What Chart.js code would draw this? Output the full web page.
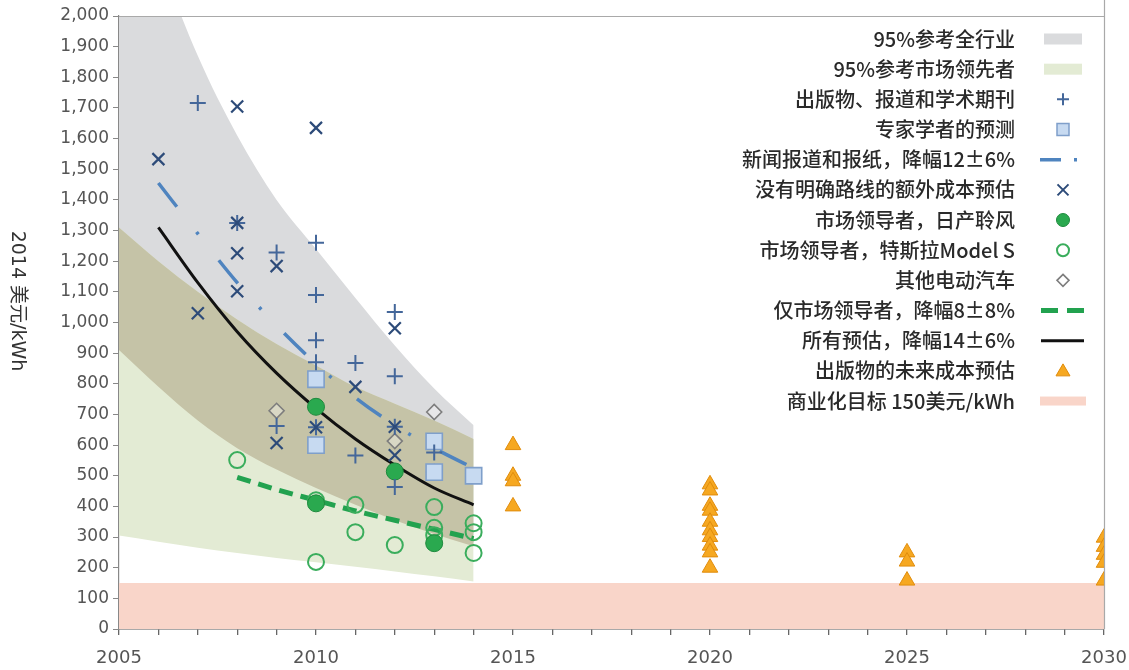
<!DOCTYPE html>
<html><head><meta charset="utf-8">
<script src="https://cdn.jsdelivr.net/npm/chart.js@4.4.1/dist/chart.umd.min.js"></script>
<style>html,body{margin:0;padding:0;background:#fff}#wrap{width:1129px;height:670px;position:relative}</style>
</head><body><div id="wrap"><canvas id="c" width="1129" height="670"></canvas></div>
<script>
// ---------- data ----------
const bandYears = [2005, 2006, 2007, 2008, 2009, 2010, 2011, 2012, 2013, 2014];
const allUpper = [2600, 2200, 1870, 1610, 1400, 1240, 1080, 925, 785, 665];
const allLower = [910, 790, 680, 590, 520, 460, 405, 355, 310, 270];
const leaderUpper = [1310, 1200, 1100, 1010, 930, 860, 790, 735, 680, 620];
const leaderLower = [305, 285, 265, 248, 232, 218, 203, 188, 172, 155];

const allFitYears = [2006, 2007, 2008, 2009, 2010, 2011, 2012, 2013, 2014];
const allFit = [1310, 1130, 970, 835, 720, 620, 535, 460, 405];
const newsFitYears = [2006, 2007, 2008, 2009, 2010, 2011, 2012, 2013, 2014];
const newsFit = [1455, 1290, 1130, 990, 865, 755, 665, 590, 525];
const leaderFitYears = [2008, 2009, 2010, 2011, 2012, 2013, 2014];
const leaderFit = [495, 455, 420, 385, 355, 325, 295];

const targetYears = [2005, 2030];
const targetValues = [150, 150];

const publications = [[2007,1716],[2008,1325],[2009,1228],[2009,662],[2010,1260],[2010,1090],[2010,942],[2010,870],[2010,658],
  [2011,868],[2011,566],[2012,1034],[2012,825],[2012,660],[2012,463],[2013,576]];
const experts = [[2010,815],[2010,600],[2013,612],[2013,512],[2014,500]];
const extraCosts = [[2006,1533],[2007,1030],[2008,1705],[2008,1325],[2008,1226],[2008,1102],[2009,1184],[2009,607],
  [2010,1635],[2010,658],[2011,790],[2012,981],[2012,660],[2012,567]];
const nissan = [[2010,725],[2010,410],[2012,514],[2013,280]];
const tesla = [[2008,551],[2010,420],[2010,219],[2011,405],[2011,316],[2012,274],[2013,398],[2013,330],[2013,306],
  [2014,345],[2014,316],[2014,248]];
const otherEV = [[2009,712],[2012,613],[2013,708],[2013,512]];
const futureEst = [[2015,600],[2015,500],[2015,482],[2015,400],
  [2020,472],[2020,452],[2020,402],[2020,386],[2020,350],[2020,322],[2020,300],[2020,272],[2020,250],[2020,200],
  [2025,250],[2025,220],[2025,158],
  [2030,298],[2030,268],[2030,242],[2030,216],[2030,158]];

const xLabelYears = [2005, 2010, 2015, 2020, 2025, 2030];
const yTicks = {min: 0, max: 2000, step: 100};
const yTitle = '2014 美元/kWh';
const legendLabels = ['95%参考全行业','95%参考市场领先者','出版物、报道和学术期刊','专家学者的预测','新闻报道和报纸，降幅12±6%',
  '没有明确路线的额外成本预估','市场领导者，日产聆风','市场领导者，特斯拉Model S','其他电动汽车','仅市场领导者，降幅8±8%',
  '所有预估，降幅14±6%','出版物的未来成本预估','商业化目标 150美元/kWh'];

// ---------- colours ----------
const C = {
  gray: '#dadbdd', green: '#e3ebd4', olive: '#c5c3a7', pink: '#f9d5c9',
  plus: '#44679a', cross: '#2d4b79', sqFill: '#c7daf1', sqBorder: '#7f9fca',
  nissan: '#2aa94f', nissanB: '#1e8a3d', tesla: '#3aad5c', diamond: '#7d7d7d',
  triFill: '#f6a821', triBorder: '#e08c0c', news: '#4f84bf', leader: '#22a24f', all: '#111111'
};

const pts = (xs, ys) => xs.map((x, i) => ({x: x, y: ys[i]}));
const pairs = a => a.map(p => ({x: p[0], y: p[1]}));
const hidden = 'rgba(0,0,0,0)';
function band(data, fill, color, order) {
  return {type: 'line', data: data, fill: fill, backgroundColor: color, borderColor: hidden, borderWidth: 0,
    pointRadius: 0, pointHoverRadius: 0, order: order, cubicInterpolationMode: 'monotone'};
}

const datasets = [
  band(pts(bandYears, allUpper), '+1', C.gray, 100),         // 0
  band(pts(bandYears, allLower), false, hidden, 100),        // 1
  band(pts(bandYears, leaderUpper), '+1', C.green, 99),      // 2
  band(pts(bandYears, leaderLower), false, hidden, 99),      // 3
  band(pts(bandYears, leaderUpper), '+1', C.olive, 98),      // 4
  band(pts(bandYears, allLower), false, hidden, 98),         // 5
  {type: 'line', data: pts(targetYears, targetValues), fill: 'origin', backgroundColor: C.pink, borderColor: hidden,
    borderWidth: 0, pointRadius: 0, order: 101},             // 6
  {type: 'line', data: pts(newsFitYears, newsFit), borderColor: C.news, borderWidth: 3.5, borderDash: [30, 32, 3, 33],
    pointRadius: 0, fill: false, order: 20, cubicInterpolationMode: 'monotone'},
  {type: 'line', data: pts(allFitYears, allFit), borderColor: C.all, borderWidth: 3, pointRadius: 0, fill: false,
    order: 19, cubicInterpolationMode: 'monotone'},
  {type: 'line', data: pts(leaderFitYears, leaderFit), borderColor: C.leader, borderWidth: 5, borderDash: [14, 8],
    pointRadius: 0, fill: false, order: 18, cubicInterpolationMode: 'monotone'},
  {type: 'scatter', data: pairs(tesla), pointStyle: 'circle', pointRadius: 8, borderColor: C.tesla, borderWidth: 2,
    backgroundColor: 'rgba(255,255,255,0)', order: 15},
  {type: 'scatter', data: pairs(otherEV), pointStyle: 'rectRot', pointRadius: 7.5, borderColor: C.diamond, borderWidth: 1.6,
    backgroundColor: 'rgba(255,255,255,0.35)', order: 14},
  {type: 'scatter', data: pairs(experts), pointStyle: 'rect', pointRadius: 11.5, borderColor: C.sqBorder, borderWidth: 1.6,
    backgroundColor: C.sqFill, order: 13},
  {type: 'scatter', data: pairs(nissan), pointStyle: 'circle', pointRadius: 8.5, borderColor: C.nissanB, borderWidth: 1,
    backgroundColor: C.nissan, order: 12},
  {type: 'scatter', data: pairs(publications), pointStyle: 'cross', pointRadius: 8, borderColor: C.plus, borderWidth: 2,
    order: 11},
  {type: 'scatter', data: pairs(extraCosts), pointStyle: 'crossRot', pointRadius: 8.5, borderColor: C.cross, borderWidth: 2.2,
    order: 10},
  {type: 'scatter', data: pairs(futureEst), pointStyle: 'triangle', pointRadius: 9, borderColor: C.triBorder, borderWidth: 1,
    backgroundColor: C.triFill, order: 9}
];

// ---------- plugins ----------
function drawMarker(ctx, kind, x, y, extra) {
  ctx.save();
  ctx.beginPath();
  if (kind === 'rect') {
    ctx.fillStyle = C[extra];
    ctx.fillRect(x - 19, y - 5.5, 38, 11);
  } else if (kind === 'plus') {
    ctx.strokeStyle = C.plus; ctx.lineWidth = 2;
    ctx.moveTo(x - 6, y); ctx.lineTo(x + 6, y); ctx.moveTo(x, y - 6); ctx.lineTo(x, y + 6); ctx.stroke();
  } else if (kind === 'square') {
    ctx.fillStyle = C.sqFill; ctx.strokeStyle = C.sqBorder; ctx.lineWidth = 1.5;
    ctx.rect(x - 6, y - 6, 12, 12); ctx.fill(); ctx.stroke();
  } else if (kind === 'news') {
    ctx.strokeStyle = C.news; ctx.lineWidth = 3.5;
    ctx.moveTo(x - 23, y); ctx.lineTo(x - 2, y); ctx.moveTo(x + 11, y); ctx.lineTo(x + 14, y); ctx.stroke();
  } else if (kind === 'x') {
    ctx.strokeStyle = C.cross; ctx.lineWidth = 2;
    ctx.moveTo(x - 5.5, y - 5.5); ctx.lineTo(x + 5.5, y + 5.5); ctx.moveTo(x + 5.5, y - 5.5); ctx.lineTo(x - 5.5, y + 5.5); ctx.stroke();
  } else if (kind === 'nissan') {
    ctx.fillStyle = C.nissan; ctx.strokeStyle = C.nissanB; ctx.lineWidth = 1;
    ctx.arc(x, y, 6.5, 0, Math.PI * 2); ctx.fill(); ctx.stroke();
  } else if (kind === 'tesla') {
    ctx.strokeStyle = C.tesla; ctx.lineWidth = 2;
    ctx.arc(x, y, 6, 0, Math.PI * 2); ctx.stroke();
  } else if (kind === 'diamond') {
    ctx.strokeStyle = C.diamond; ctx.lineWidth = 1.6;
    ctx.moveTo(x, y - 6); ctx.lineTo(x + 6, y); ctx.lineTo(x, y + 6); ctx.lineTo(x - 6, y); ctx.closePath(); ctx.stroke();
  } else if (kind === 'leader') {
    ctx.strokeStyle = C.leader; ctx.lineWidth = 5;
    ctx.moveTo(x - 22, y); ctx.lineTo(x - 5, y); ctx.moveTo(x + 4, y); ctx.lineTo(x + 21, y); ctx.stroke();
  } else if (kind === 'all') {
    ctx.strokeStyle = C.all; ctx.lineWidth = 3;
    ctx.moveTo(x - 22, y); ctx.lineTo(x + 21, y); ctx.stroke();
  } else if (kind === 'tri') {
    ctx.fillStyle = C.triFill; ctx.strokeStyle = C.triBorder; ctx.lineWidth = 1;
    ctx.moveTo(x, y - 7); ctx.lineTo(x + 7, y + 5); ctx.lineTo(x - 7, y + 5); ctx.closePath(); ctx.fill(); ctx.stroke();
  } else if (kind === 'pink') {
    ctx.fillStyle = C.pink; ctx.fillRect(x - 23, y - 4.5, 46, 9);
  }
  ctx.restore();
}
const legendKinds = [['rect','gray'],['rect','green'],['plus'],['square'],['news'],['x'],['nissan'],['tesla'],['diamond'],
  ['leader'],['all'],['tri'],['pink']];

const decor = {
  id: 'decor',
  afterDraw(chart) {
    const ctx = chart.ctx, a = chart.chartArea;
    ctx.save();
    // top and right frame
    ctx.strokeStyle = '#a9a9a9'; ctx.lineWidth = 1.2;
    ctx.beginPath(); ctx.moveTo(a.left, a.top + 0.5); ctx.lineTo(a.right, a.top + 0.5);
    ctx.moveTo(a.right + 0.5, 0); ctx.lineTo(a.right + 0.5, a.bottom); ctx.stroke();
    // rotated y title (reads top to bottom)
    ctx.translate(17, 301); ctx.rotate(Math.PI / 2);
    ctx.fillStyle = '#333'; ctx.font = '19px "DejaVu Sans", "Noto Sans CJK SC"';
    ctx.textAlign = 'center'; ctx.textBaseline = 'middle';
    ctx.fillText(yTitle, 0, 0);
    ctx.restore();
    // legend
    ctx.save();
    ctx.font = '500 20px "Noto Sans CJK SC"'; ctx.fillStyle = '#2a2a2a';
    ctx.textAlign = 'right'; ctx.textBaseline = 'middle';
    legendLabels.forEach((t, i) => {
      const y = 39 + i * 30.17;
      ctx.fillText(t, 1015, y);
      const k = legendKinds[i];
      drawMarker(ctx, k[0], 1063, y, k[1]);
    });
    ctx.restore();
  }
};

new Chart(document.getElementById('c'), {
  type: 'scatter',
  data: {datasets: datasets},
  options: {
    responsive: false, animation: false, devicePixelRatio: 1,
    layout: {padding: {top: 16, right: 25, left: 0, bottom: 0}},
    plugins: {legend: {display: false}, tooltip: {enabled: false}},
    elements: {line: {tension: 0}},
    scales: {
      x: {type: 'linear', min: 2005, max: 2030,
        ticks: {stepSize: 1, autoSkip: false, maxRotation: 0, padding: 13, color: '#555',
          font: {family: '"DejaVu Sans"', size: 18},
          callback: v => xLabelYears.includes(v) ? String(v) : ''},
        grid: {drawOnChartArea: false, drawTicks: true, tickLength: 6, color: '#666', lineWidth: 1.3},
        border: {color: '#555', width: 1.5},
        afterFit: s => { s.height = 41; s.paddingRight = 0; s.paddingLeft = 0; }},
      y: {min: yTicks.min, max: yTicks.max,
        ticks: {stepSize: yTicks.step, padding: 4, color: '#555', font: {family: '"DejaVu Sans"', size: 17},
          callback: v => v.toLocaleString('en-US')},
        grid: {drawOnChartArea: false, drawTicks: true, tickLength: 6, color: '#888'},
        border: {color: '#888', width: 1.2},
        afterFit: s => { s.width = 119; s.paddingTop = 0; s.paddingBottom = 0; }}
    }
  },
  plugins: [decor]
});
</script></body></html>
